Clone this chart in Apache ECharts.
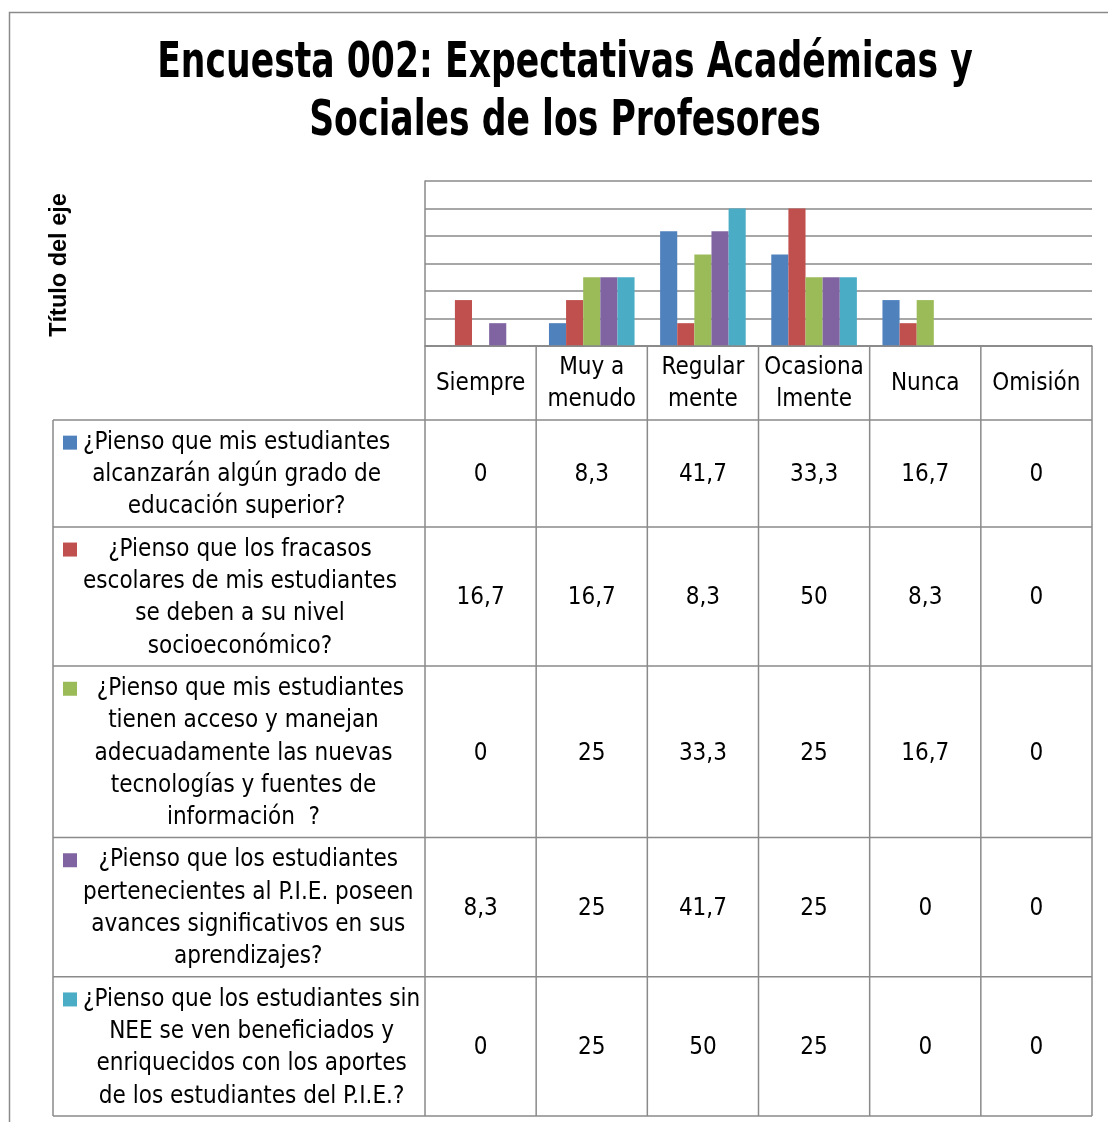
<!DOCTYPE html>
<html>
<head>
<meta charset="utf-8">
<script src="https://cdn.jsdelivr.net/npm/echarts@6/dist/echarts.min.js"></script>
<style>
  html, body { margin: 0; padding: 0; background: #ffffff; }
  #chart { width: 1108px; height: 1122px; }
</style>
</head>
<body>
<div id="chart"></div>
<script>
// Survey answers (percent) per response option
const categories = ['Siempre', 'Muy a\nmenudo', 'Regular\nmente', 'Ocasiona\nlmente', 'Nunca', 'Omisión'];

const seriesNames = [
  '¿Pienso que mis estudiantes\nalcanzarán algún grado de\neducación superior?',
  '¿Pienso que los fracasos\nescolares de mis estudiantes\nse deben a su nivel\nsocioeconómico?',
  '  ¿Pienso que mis estudiantes\ntienen acceso y manejan\nadecuadamente las nuevas\ntecnologías y fuentes de\ninformación  ?',
  '¿Pienso que los estudiantes\npertenecientes al P.I.E. poseen\navances significativos en sus\naprendizajes?',
  '¿Pienso que los estudiantes sin\nNEE se ven beneficiados y\nenriquecidos con los aportes\nde los estudiantes del P.I.E.?'
];

const valuesEducacion   = [0, 8.3, 41.7, 33.3, 16.7, 0];
const valuesFracasos    = [16.7, 16.7, 8.3, 50, 8.3, 0];
const valuesTecnologias = [0, 25, 33.3, 25, 16.7, 0];
const valuesPIE         = [8.3, 25, 41.7, 25, 0, 0];
const valuesSinNEE      = [0, 25, 50, 25, 0, 0];

const seriesValues = [valuesEducacion, valuesFracasos, valuesTecnologias, valuesPIE, valuesSinNEE];
const seriesColors = ['#4F81BD', '#C0504D', '#9BBB59', '#8064A2', '#4BACC6'];

const chartTitle = 'Encuesta 002: Expectativas Académicas y\nSociales de los Profesores';
const axisTitle = 'Título del eje';

// Layout
const plotLeft = 425, plotRight = 1092, plotTop = 181, plotBottom = 346;
const tableLeft = 53, headerBottom = 420;
const keyX = 63, keySize = 14, nameLeft = 83;
const lineH = 32.3, rowPad = 10;
const gridColor = '#8a8a8a';
const bodyFont = '"DejaVu Sans Condensed", "DejaVu Sans", sans-serif';
const bodySize = 24;
const colW = (plotRight - plotLeft) / categories.length;

// text measuring for the wrapped series names
const measureCtx = document.createElement('canvas').getContext('2d');
measureCtx.font = bodySize + 'px ' + bodyFont;
function textWidth(t) { return measureCtx.measureText(t).width; }

const graphics = [];

// outer chart frame (runs past the right/bottom edges)
graphics.push({
  type: 'rect', silent: true,
  shape: { x: 9.5, y: 12.5, width: 1300, height: 1300 },
  style: { fill: null, stroke: '#8a8a8a', lineWidth: 1.5 }
});

// title (condensed bold)
graphics.push({
  type: 'text', silent: true, x: 565, y: 93, scaleX: 0.77,
  style: {
    text: chartTitle, x: 0, y: 0, align: 'center', verticalAlign: 'middle',
    fontSize: 50, fontWeight: 'bold', lineHeight: 58,
    fontFamily: '"DejaVu Sans Condensed", "DejaVu Sans", sans-serif', fill: '#000'
  }
});

// vertical axis title
graphics.push({
  type: 'text', silent: true, x: 60, y: 265, rotation: Math.PI / 2,
  style: {
    text: axisTitle, x: 0, y: 0, align: 'center', verticalAlign: 'middle',
    fontSize: 23.5, fontWeight: 'bold',
    fontFamily: '"Liberation Sans", Arial, sans-serif', fill: '#000'
  }
});

// data table rows
const rowTops = [];
let y = headerBottom;
seriesNames.forEach(name => {
  const n = name.split('\n').length;
  rowTops.push(y);
  y += n * lineH + rowPad;
});
const tableBottom = y;

function hLine(x1, x2, yy) {
  graphics.push({ type: 'line', silent: true, z: 10,
    shape: { x1: x1, y1: yy, x2: x2, y2: yy },
    style: { stroke: gridColor, lineWidth: 1.5 } });
}
function vLine(xx, y1, y2) {
  graphics.push({ type: 'line', silent: true, z: 10,
    shape: { x1: xx, y1: y1, x2: xx, y2: y2 },
    style: { stroke: gridColor, lineWidth: 1.5 } });
}

hLine(plotLeft, plotRight, plotBottom);
hLine(tableLeft, plotRight, headerBottom);
vLine(tableLeft, headerBottom, tableBottom);
for (let i = 0; i <= categories.length; i++) {
  vLine(plotLeft + i * colW, plotBottom, tableBottom);
}

// header cells: category names
categories.forEach((c, i) => {
  graphics.push({ type: 'text', silent: true, z: 11,
    style: { text: c, x: plotLeft + (i + 0.5) * colW, y: (plotBottom + headerBottom) / 2 + 1,
      align: 'center', verticalAlign: 'middle', fontSize: bodySize, lineHeight: lineH,
      fontFamily: bodyFont, fill: '#000' } });
});

// series rows: legend key, name, values
seriesNames.forEach((name, s) => {
  const top = rowTops[s];
  const lines = name.split('\n');
  const n = lines.length;
  const h = n * lineH + rowPad;
  const bottom = top + h;
  hLine(tableLeft, plotRight, bottom);
  const cy = top + h / 2 + 1.5;
  const firstLineY = cy - (n - 1) * lineH / 2;
  graphics.push({ type: 'rect', silent: true, z: 11,
    shape: { x: keyX, y: firstLineY - keySize / 2, width: keySize, height: keySize },
    style: { fill: seriesColors[s] } });
  // name block sits right of the key; each line is centred within the block
  const blockW = Math.max.apply(null, lines.map(textWidth));
  graphics.push({ type: 'text', silent: true, z: 11,
    style: { text: name, x: nameLeft + blockW / 2, y: cy,
      align: 'center', verticalAlign: 'middle', fontSize: bodySize, lineHeight: lineH,
      fontFamily: bodyFont, fill: '#000' } });
  seriesValues[s].forEach((v, i) => {
    graphics.push({ type: 'text', silent: true, z: 11,
      style: { text: String(v).replace('.', ','), x: plotLeft + (i + 0.5) * colW, y: cy,
        align: 'center', verticalAlign: 'middle', fontSize: bodySize,
        fontFamily: bodyFont, fill: '#000' } });
  });
});

const chart = echarts.init(document.getElementById('chart'), null, { renderer: 'canvas' });
chart.setOption({
  backgroundColor: '#ffffff',
  animation: false,
  grid: { left: plotLeft, top: plotTop, width: plotRight - plotLeft, height: plotBottom - plotTop, containLabel: false },
  xAxis: {
    type: 'category', data: categories,
    axisLine: { show: true, lineStyle: { color: gridColor, width: 1.5 } },
    axisTick: { show: false }, axisLabel: { show: false }, splitLine: { show: false }
  },
  yAxis: {
    type: 'value', min: 0, max: 60, interval: 10,
    axisLine: { show: true, lineStyle: { color: gridColor, width: 1.5 } },
    axisTick: { show: false }, axisLabel: { show: false },
    splitLine: { show: true, lineStyle: { color: gridColor, width: 1.5 } }
  },
  series: seriesNames.map((name, s) => ({
    type: 'bar', name: name, data: seriesValues[s],
    barGap: '0%', barCategoryGap: '23%',
    itemStyle: { color: seriesColors[s] }
  })),
  graphic: graphics
});
</script>
</body>
</html>
